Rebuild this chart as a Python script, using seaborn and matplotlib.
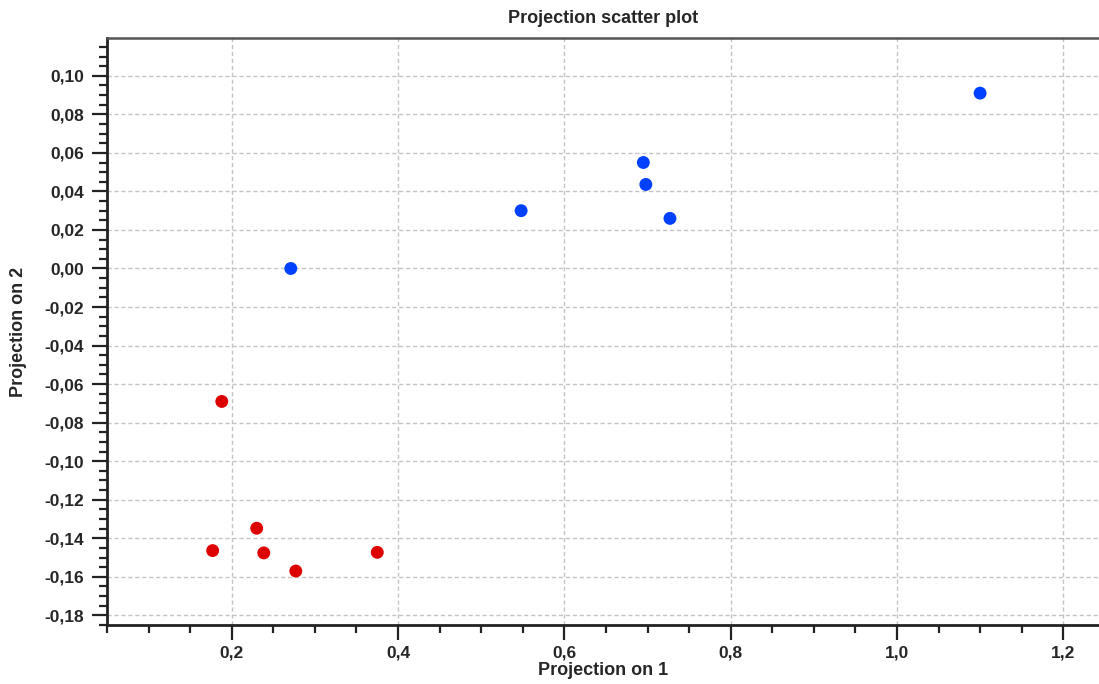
import matplotlib
matplotlib.use("Agg")
import matplotlib.pyplot as plt
import matplotlib.ticker as mticker
import seaborn as sns
import pandas as pd

group_a_x = [0.271, 0.548, 0.695, 0.698, 0.727, 1.100]
group_a_y = [0.000, 0.030, 0.055, 0.0436, 0.026, 0.091]
group_b_x = [0.188, 0.177, 0.230, 0.2385, 0.277, 0.375]
group_b_y = [-0.069, -0.1464, -0.1348, -0.1476, -0.157, -0.1473]
groups = ["A", "B"]
colors = {"A": "#0040ff", "B": "#dd0000"}

df = pd.DataFrame({
    "x": group_a_x + group_b_x,
    "y": group_a_y + group_b_y,
    "g": ["A"] * len(group_a_x) + ["B"] * len(group_b_x),
})

sns.set_style("white")
plt.rcParams['font.family'] = ['Liberation Sans', 'DejaVu Sans']
plt.rcParams['font.weight'] = 'bold'

fig = plt.figure(figsize=(10.99, 6.84), dpi=100)
ax = fig.add_axes([0.0974, 0.0863, 0.9026, 0.8581])

ax.grid(True, which="major", color="#c4c4c4", linestyle=(0, (3, 2)), linewidth=1.0)
ax.set_axisbelow(True)

sns.scatterplot(data=df, x="x", y="y", hue="g", palette=colors, s=86,
                edgecolor="none", legend=False, ax=ax, zorder=3)

ax.set_xlim(0.05, 1.243)
ax.set_ylim(-0.185, 0.1196)
ax.xaxis.set_major_locator(mticker.MultipleLocator(0.2))
ax.xaxis.set_minor_locator(mticker.MultipleLocator(0.05))
ax.yaxis.set_major_locator(mticker.MultipleLocator(0.02))
ax.yaxis.set_minor_locator(mticker.MultipleLocator(0.005))

def fmt_x(v, pos):
    return f"{v:.1f}".replace(".", ",").replace("-0,0", "0,0")
def fmt_y(v, pos):
    s = f"{v:.2f}".replace(".", ",")
    if s == "-0,00":
        s = "0,00"
    return s
ax.xaxis.set_major_formatter(mticker.FuncFormatter(fmt_x))
ax.yaxis.set_major_formatter(mticker.FuncFormatter(fmt_y))

ax.tick_params(axis="both", which="major", direction="out", length=11, width=1.6,
               color="#222222", labelsize=12.5)
ax.tick_params(axis="y", which="major", pad=5.5)
ax.tick_params(axis="x", which="major", pad=4)
ax.tick_params(axis="both", which="minor", direction="out", length=6, width=1.6,
               color="#222222")
ax.tick_params(left=True, bottom=True, which="both")
for lab in ax.get_xticklabels() + ax.get_yticklabels():
    lab.set_fontweight("bold")

ax.spines["right"].set_visible(False)
ax.spines["left"].set_linewidth(2.0)
ax.spines["left"].set_color("#222222")
ax.spines["bottom"].set_linewidth(2.0)
ax.spines["bottom"].set_color("#222222")
ax.spines["top"].set_linewidth(1.8)
ax.spines["top"].set_color("#555555")

ax.set_xlabel("Projection on 1", fontsize=13, fontweight="bold", labelpad=1)
ax.set_ylabel("Projection on 2", fontsize=13, fontweight="bold")
ax.yaxis.set_label_coords(-0.0806, 0.5)
ax.set_title("Projection scatter plot", fontsize=13, fontweight="bold", pad=11)

fig.savefig("out.png", dpi=100)
